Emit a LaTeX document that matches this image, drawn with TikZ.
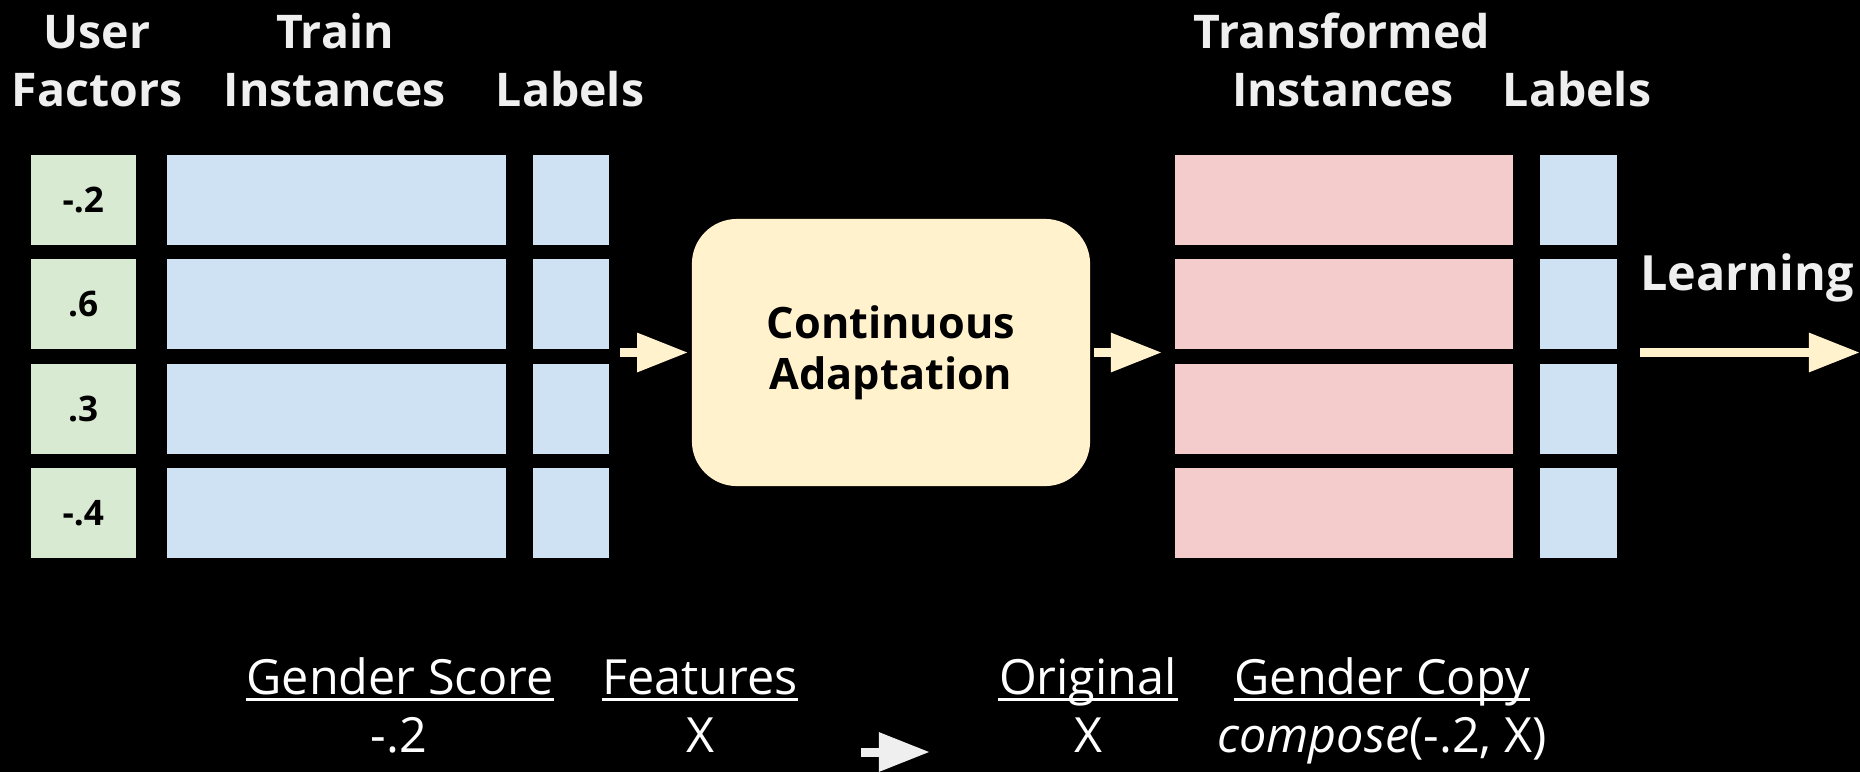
\documentclass[tikz,border=0pt]{standalone}
\usepackage{fontspec}
\setmainfont{Open Sans}
\usetikzlibrary{arrows.meta}
\definecolor{factgreen}{HTML}{D9EAD3}
\definecolor{instblue}{HTML}{CFE2F3}
\definecolor{trpink}{HTML}{F4CCCC}
\definecolor{adaptyellow}{HTML}{FFF2CC}
\definecolor{headgray}{HTML}{EFEFEF}
\begin{document}
\begin{tikzpicture}[x=0.01cm, y=-0.01cm, line join=round,
	cell/.style={inner sep=0pt, minimum height=0.9cm, anchor=north west},
	head/.style={text=headgray, font=\fontsize{13.2}{16}\selectfont\bfseries, inner sep=0pt, anchor=base},
	note/.style={text=white, font=\fontsize{13.8}{17}\selectfont, inner sep=0pt, anchor=base},
	fat/.style={adaptyellow, line width=0.09cm, -{Triangle[length=0.51cm, width=0.37cm]}},
	uline/.style={white, line width=0.03cm}]
	\fill[black] (0,0) rectangle (1860,772);
	\useasboundingbox (0,0) rectangle (1860,772);
	\node[head] (huser) at (97,48) {User};
	\node[head] (hfact) at (97,106) {Factors};
	\node[head] (htrain) at (335,48) {Train};
	\node[head] (hinst) at (335,106) {Instances};
	\node[head] (hlab) at (570,106) {Labels};
	\node[head] (htrans) at (1342,48) {Transformed};
	\node[head] (htinst) at (1343,106) {Instances};
	\node[head] (htlab) at (1577,106) {Labels};
	\foreach \v [count=\i from 0] in {-.2,.6,.3,-.4} {
		\node[cell, fill=factgreen, minimum width=1.05cm, font=\fontsize{10}{12}\selectfont\bfseries] (f\i) at (30,154+104.4*\i) {\v};
		\node[cell, fill=instblue, minimum width=3.385cm] (ins\i) at (166.5,154+104.4*\i) {};
		\node[cell, fill=instblue, minimum width=0.76cm] (lab\i) at (532,154+104.4*\i) {};
		\node[cell, fill=trpink, minimum width=3.385cm] (tr\i) at (1174,154+104.4*\i) {};
		\node[cell, fill=instblue, minimum width=0.77cm] (tlab\i) at (1539,154+104.4*\i) {};
	}
	\node[fill=adaptyellow, rounded corners=0.45cm, minimum width=3.98cm, minimum height=2.67cm, align=center, font=\fontsize{12.3}{14.5}\selectfont\bfseries] (ada) at (891,352.5) {Continuous\\Adaptation};
	\draw[fat] ([xshift=0.11cm]lab0.east |- ada.west) -- ([xshift=-0.03cm]ada.west);
	\draw[fat] ([xshift=0.03cm]ada.east) -- ([xshift=-0.12cm]tr0.west |- ada.east);
	\node[head, font=\fontsize{13.8}{17}\selectfont\bfseries] (learn) at (1747,290) {Learning};
	\coordinate (learnend) at (1860,352.5);
	\draw[fat] ([xshift=0.23cm]tlab0.east |- ada.east) -- (learnend);
	\node[note] (gs) at (400,694) {Gender Score};
	\node[note] (gv) at (399,752) {-.2};
	\node[note] (ft) at (700,694) {Features};
	\node[note] (fv) at (700,752) {X};
	\node[note] (og) at (1088,694) {Original};
	\node[note] (ov) at (1088,752) {X};
	\node[note] (gc) at (1382,694) {Gender Copy};
	\node[note] (cv) at (1382,752) {\textit{compose}(-.2, X)};
	\foreach \n in {gs,ft,og,gc}
		\draw[uline] ([yshift=-0.055cm]\n.base west) -- ([yshift=-0.055cm]\n.base east);
	\coordinate (sa) at (861,752);
	\coordinate (sb) at (930,752);
	\draw[fat, headgray] (sa) -- (sb);
\end{tikzpicture}
\end{document}
